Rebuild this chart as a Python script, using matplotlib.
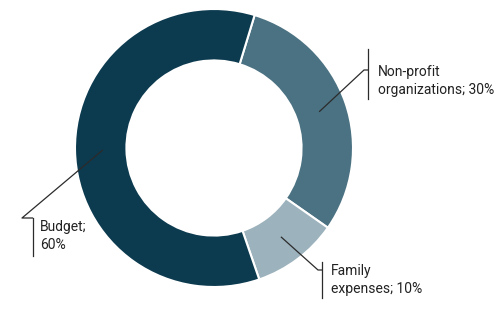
import numpy as np
import matplotlib
matplotlib.use("Agg")
import matplotlib.pyplot as plt

plt.rcParams['font.family'] = ['Roboto', 'DejaVu Sans']

# data
labels = ["Non-profit\norganizations; 30%", "Family\nexpenses; 10%", "Budget;\n60%"]
values = [30, 10, 60]
colors = ["#4b7282", "#9cb2bc", "#0c3a4f"]

W, H = 500, 310
fig = plt.figure(figsize=(W / 100, H / 100), dpi=100)
ax = fig.add_axes([0, 0, 1, 1])

cx, cy, R = 214, H - 148, 139
wedges, _ = ax.pie(values, colors=colors, startangle=73, counterclock=False,
                   center=(cx, cy), radius=R,
                   wedgeprops=dict(width=R * 0.37, edgecolor="white", linewidth=1.5))
ax.set_xlim(0, W)
ax.set_ylim(0, H)
ax.set_aspect("equal")
ax.axis("off")

# leader layout: (elbow point, bracket x, bracket y-range, text x, text y) in pixel coords
layout = [
    ((364, 70), 368, (49, 99), 378, 81),
    ((318, 270), 322, (262, 298), 331, 280),
    ((22, 218), 33, (218, 256), 40, 236),
]
line_c = "#2b2b2b"
for w, lab, (elb, bx, (by0, by1), tx, ty) in zip(wedges, labels, layout):
    mid = np.deg2rad((w.theta1 + w.theta2) / 2)
    r = R * 0.8
    sx, sy = cx + r * np.cos(mid), cy + r * np.sin(mid)
    ex, ey = elb[0], H - elb[1]
    ax.plot([sx, ex, bx], [sy, ey, ey], color=line_c, lw=0.9, solid_capstyle="butt")
    ax.plot([bx, bx], [H - by0, H - by1], color=line_c, lw=0.9)
    ax.text(tx, H - ty, lab, fontsize=10, color="#222222", ha="left", va="center",
            linespacing=1.45)

fig.savefig("out.png", dpi=100)
